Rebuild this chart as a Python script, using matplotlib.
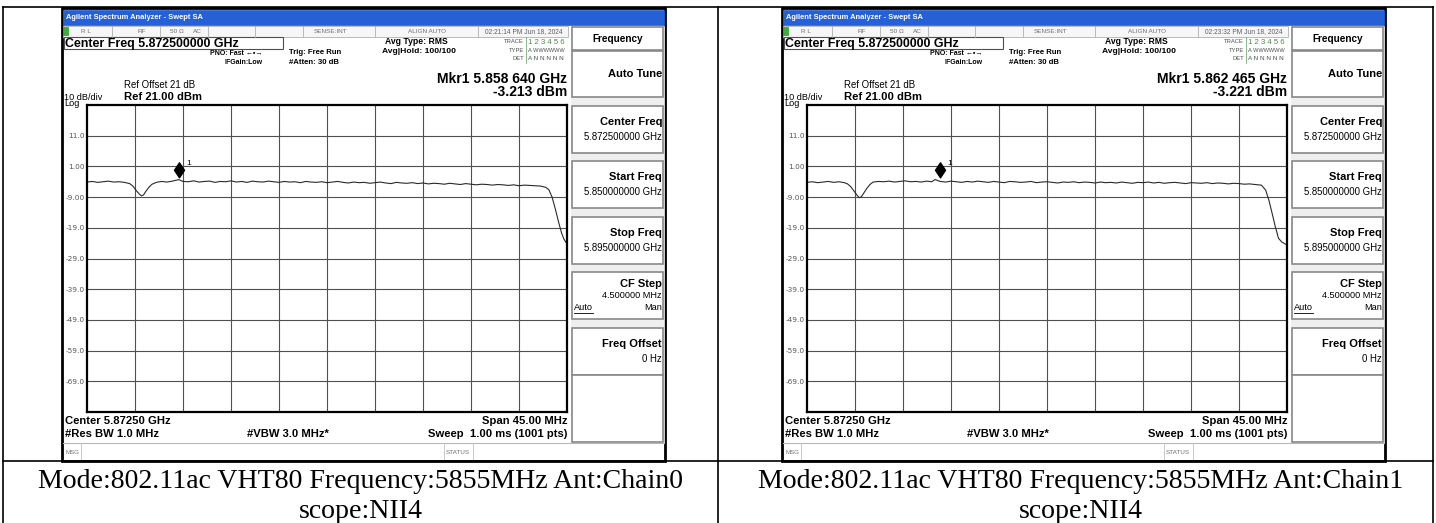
import matplotlib.pyplot as plt
from matplotlib.patches import Rectangle
from matplotlib.path import Path

center_ghz = 5.8725
span_ghz = 0.045
ref_dbm = 21.0
db_per_div = 10.0
y_tick_labels = ['11.0', '1.00', '-9.00', '-19.0', '-29.0', '-39.0', '-49.0', '-59.0', '-69.0']

c0_freq = [5.8500, 5.8505, 5.8510, 5.8515, 5.8520, 5.8525, 5.8530, 5.8535,
           5.8540, 5.8543, 5.8546, 5.8549, 5.8551, 5.8553, 5.8555, 5.8558, 5.8561, 5.8565,
           5.8570, 5.8575, 5.8580, 5.8586, 5.8590, 5.8595, 5.8600, 5.8605, 5.8610, 5.8615,
           5.8620, 5.8625, 5.8630, 5.8635, 5.8640, 5.8645, 5.8650, 5.8655, 5.8660, 5.8665,
           5.8670, 5.8675, 5.8680, 5.8685, 5.8690, 5.8695, 5.8700, 5.8705, 5.8710, 5.8715,
           5.8720, 5.8725, 5.8730, 5.8735, 5.8740, 5.8745, 5.8750, 5.8755, 5.8760, 5.8765,
           5.8770, 5.8775, 5.8780, 5.8785, 5.8790, 5.8795, 5.8800, 5.8805, 5.8810, 5.8815,
           5.8820, 5.8825, 5.8830, 5.8835, 5.8840, 5.8845, 5.8850, 5.8855, 5.8860, 5.8865,
           5.8870, 5.8875, 5.8880, 5.8885, 5.8890, 5.8895, 5.8900, 5.8905, 5.8910, 5.8915,
           5.8920, 5.8925, 5.8930, 5.8933, 5.8936, 5.8939, 5.8942, 5.8945, 5.8947, 5.8950]
c0_level = [-4.1, -3.9, -4.2, -4.0, -3.8, -4.1, -4.0, -4.2,
            -4.6, -5.4, -6.8, -8.0, -8.6, -8.3, -7.2, -5.8, -4.8, -4.2,
            -3.9, -4.1, -3.8, -3.3, -3.9, -4.0, -3.7, -4.1, -3.9, -3.8,
            -4.2, -3.9, -4.0, -3.7, -4.1, -3.9, -4.2, -3.8, -4.0, -4.1,
            -3.8, -4.0, -4.2, -3.9, -4.1, -4.0, -4.3, -3.9, -4.1, -4.2,
            -4.0, -4.3, -4.1, -3.9, -4.2, -4.4, -4.1, -4.3, -4.2, -4.5,
            -4.3, -4.1, -4.4, -4.6, -4.2, -4.4, -4.5, -4.3, -4.6, -4.4,
            -4.7, -4.5, -4.6, -4.8, -4.5, -4.7, -4.9, -4.6, -4.8, -5.0,
            -4.8, -4.9, -5.1, -4.9, -5.0, -5.2, -5.0, -5.3, -5.1, -5.2,
            -5.3, -5.4, -5.8, -6.6, -9.0, -12.8, -17.0, -20.8, -22.6, -24.3]

c1_freq = [5.8500, 5.8505, 5.8510, 5.8515, 5.8520, 5.8525, 5.8530, 5.8535,
           5.8538, 5.8541, 5.8544, 5.8547, 5.8549, 5.8551, 5.8553, 5.8556, 5.8559, 5.8562,
           5.8567, 5.8572, 5.8577, 5.8582, 5.8587, 5.8592, 5.8597, 5.8602, 5.8607, 5.8612,
           5.8617, 5.8620, 5.8625, 5.8630, 5.8635, 5.8640, 5.8645, 5.8650, 5.8655, 5.8660,
           5.8665, 5.8670, 5.8675, 5.8680, 5.8685, 5.8690, 5.8695, 5.8700, 5.8705, 5.8710,
           5.8715, 5.8720, 5.8725, 5.8730, 5.8735, 5.8740, 5.8745, 5.8750, 5.8755, 5.8760,
           5.8765, 5.8770, 5.8775, 5.8780, 5.8785, 5.8790, 5.8795, 5.8800, 5.8805, 5.8810,
           5.8815, 5.8820, 5.8825, 5.8830, 5.8835, 5.8840, 5.8845, 5.8850, 5.8855, 5.8860,
           5.8865, 5.8870, 5.8875, 5.8880, 5.8885, 5.8890, 5.8895, 5.8900, 5.8905, 5.8910,
           5.8915, 5.8920, 5.8926, 5.8930, 5.8933, 5.8936, 5.8939, 5.8942, 5.8945, 5.8950]
c1_level = [-4.2, -4.0, -4.3, -4.1, -3.9, -4.2, -4.0, -4.3,
            -4.7, -5.6, -7.0, -8.4, -9.2, -8.9, -7.8, -6.2, -4.9, -4.1,
            -3.9, -4.0, -3.8, -4.1, -3.9, -3.7, -4.0, -3.9, -4.1, -3.8,
            -4.0, -3.3, -3.9, -4.1, -3.8, -4.0, -4.2, -3.9, -4.1, -3.8,
            -4.0, -4.2, -3.9, -4.1, -4.3, -3.9, -4.0, -4.2, -4.1, -3.9,
            -4.3, -4.1, -4.0, -4.2, -4.4, -4.1, -4.2, -4.0, -4.3, -4.1,
            -4.2, -4.4, -4.1, -4.3, -4.2, -4.4, -4.1, -4.3, -4.5, -4.2,
            -4.3, -4.1, -4.4, -4.2, -4.5, -4.3, -4.2, -4.4, -4.6, -4.3,
            -4.4, -4.5, -4.3, -4.6, -4.4, -4.5, -4.7, -4.5, -4.6, -4.8,
            -4.7, -4.9, -5.1, -6.7, -10.0, -14.2, -18.6, -22.4, -23.6, -24.6]

mkr_freq = [5.858640, 5.862465]
mkr_level = [-3.213, -3.221]
mkr_text = ['Mkr1 5.858 640 GHz', 'Mkr1 5.862 465 GHz']
mkr_val_text = ['-3.213 dBm', '-3.221 dBm']
stamps = ['02:21:14 PM Jun 18, 2024', '02:23:32 PM Jun 18, 2024']
captions = ['Mode:802.11ac VHT80 Frequency:5855MHz Ant:Chain0',
            'Mode:802.11ac VHT80 Frequency:5855MHz Ant:Chain1']
softkeys = [('Center Freq', '5.872500000 GHz'), ('Start Freq', '5.850000000 GHz'),
            ('Stop Freq', '5.895000000 GHz'), ('CF Step', '4.500000 MHz'),
            ('Freq Offset', '0 Hz')]

W, H = 1436, 523
SANS = 'Liberation Sans'
fig = plt.figure(figsize=(W / 100, H / 100), dpi=100)
bg = fig.add_axes([0, 0, 1, 1])
bg.set_xlim(0, W)
bg.set_ylim(H, 0)
bg.axis('off')


def txt(x, y, s, size, ha='left', weight='normal', color='black', family=SANS):
    bg.text(x, y, s, fontsize=size, ha=ha, va='center', fontweight=weight,
            color=color, family=family, zorder=4)


def box(x0, y0, x1, y1, fc='white', ec='#808080', lw=1.0, z=1):
    bg.add_patch(Rectangle((x0, y0), x1 - x0, y1 - y0, facecolor=fc,
                           edgecolor=ec, linewidth=lw, zorder=z))


# diamond marker sitting on top of the trace point
diamond = Path([(0, 0.1), (0.3, 0.55), (0, 1.0), (-0.3, 0.55), (0, 0.1)],
               [Path.MOVETO, Path.LINETO, Path.LINETO, Path.LINETO, Path.CLOSEPOLY])


def draw_screen(i, ox, freqs, levels):
    # frame + title bar
    box(ox + 62, 8, ox + 665, 461, fc='white', ec='black', lw=2.0)
    box(ox + 63, 10, ox + 664, 25, fc='#2660d6', ec='#2660d6', lw=0.5, z=2)
    txt(ox + 66, 17.5, 'Agilent Spectrum Analyzer - Swept SA', 5.4, weight='bold', color='white')

    # status row
    box(ox + 63, 26, ox + 568, 37, fc='#f6f6f6', ec='#b0b0b0', lw=0.6, z=2)
    for xd in [112, 160, 208, 255, 303, 375, 478]:
        bg.plot([ox + xd, ox + xd], [26, 37], color='#b0b0b0', lw=0.6, zorder=3)
    box(ox + 63, 27, ox + 68, 35, fc='#38b038', ec='#208020', lw=0.4, z=3)
    for xs, s in [(81, 'R L'), (137, 'RF'), (170, '50 Ω'), (193, 'AC'), (331, 'SENSE:INT'),
                  (427, 'ALIGN AUTO')]:
        txt(ox + xs, 31.5, s, 4.6, ha='center' if xs > 300 else 'left', color='#707070')
    txt(ox + 524, 31.5, stamps[i], 4.8, ha='center', color='#606060')

    # header
    box(ox + 64, 37, ox + 283, 49, fc='white', ec='#505050', lw=0.8, z=2)
    txt(ox + 65, 43.5, 'Center Freq 5.872500000 GHz', 8.9, weight='bold')
    txt(ox + 262, 53.5, 'PNO: Fast ←•→', 5.0, ha='right', weight='bold')
    txt(ox + 263, 63, 'IFGain:Low', 5.0, ha='right', weight='bold')
    txt(ox + 289, 52, 'Trig: Free Run', 5.6, weight='bold')
    txt(ox + 289, 62, '#Atten: 30 dB', 5.6, weight='bold')
    txt(ox + 385, 42, 'Avg Type: RMS', 6.2, weight='bold')
    txt(ox + 382, 51.5, 'Avg|Hold: 100/100', 6.1, weight='bold')
    txt(ox + 524, 41.5, 'TRACE', 4.2, ha='right', color='#505050')
    txt(ox + 524, 50.5, 'TYPE', 4.2, ha='right', color='#505050')
    txt(ox + 524, 59, 'DET', 4.2, ha='right', color='#505050')
    bg.plot([ox + 526, ox + 526], [37, 63], color='#7ab07a', lw=0.6)
    txt(ox + 528, 42, '1 2 3 4 5 6', 5.6, color='#4c8a4c')
    txt(ox + 528, 50.5, 'A WWWWWW', 4.1, color='#505050')
    txt(ox + 528, 59, 'A N N N N N', 4.6, color='#505050')
    txt(ox + 567, 79, mkr_text[i], 10.0, ha='right', weight='bold')
    txt(ox + 567, 92.5, mkr_val_text[i], 10.0, ha='right', weight='bold')
    txt(ox + 124, 85.5, 'Ref Offset 21 dB', 6.9)
    txt(ox + 124, 96.5, 'Ref 21.00 dBm', 8.1, weight='bold')
    txt(ox + 64, 97.5, '10 dB/div', 6.6)
    txt(ox + 64, 104, 'Log', 6.6)

    # graticule
    ax = fig.add_axes([(ox + 87) / W, (H - 412) / H, 480 / W, 307 / H])
    f0 = center_ghz - span_ghz / 2
    ax.set_xlim(f0, f0 + span_ghz)
    ax.set_ylim(ref_dbm - 10 * db_per_div, ref_dbm)
    ax.set_xticks([f0 + k * span_ghz / 10 for k in range(1, 10)])
    ax.set_xticklabels([])
    ax.set_yticks([ref_dbm - k * db_per_div for k in range(1, 10)])
    ax.set_yticklabels(y_tick_labels)
    ax.tick_params(length=0, labelsize=5.3, labelcolor='#555555', pad=1.5)
    ax.grid(True, color='#505050', lw=0.8)
    for sp in ax.spines.values():
        sp.set_linewidth(1.6)
        sp.set_color('black')
    ax.plot(freqs, levels, color='#2a2a2a', lw=0.8)
    ax.plot(mkr_freq[i], mkr_level[i], marker=diamond, markersize=24, color='black',
            linestyle='none')
    ax.annotate('1', (mkr_freq[i], mkr_level[i]), xytext=(5, 11.5), textcoords='offset points',
                fontsize=6, ha='left', va='center', family=SANS)

    # footer
    txt(ox + 65, 421, 'Center 5.87250 GHz', 8.1, weight='bold')
    txt(ox + 65, 434, '#Res BW 1.0 MHz', 8.1, weight='bold')
    txt(ox + 247, 434, '#VBW 3.0 MHz*', 8.1, weight='bold')
    txt(ox + 567, 421, 'Span 45.00 MHz', 8.1, ha='right', weight='bold')
    txt(ox + 567, 434, 'Sweep  1.00 ms (1001 pts)', 8.1, ha='right', weight='bold')
    bg.plot([ox + 63, ox + 664], [443, 443], color='#b8b8b8', lw=0.8)
    for xd in [81, 444, 473]:
        bg.plot([ox + xd, ox + xd], [443, 460], color='#c8c8c8', lw=0.7)
    txt(ox + 65, 452, 'MSG', 4.4, color='#707070')
    txt(ox + 458, 452, 'STATUS', 4.6, ha='center', color='#707070')

    # softkey panel
    box(ox + 571, 26, ox + 664, 443, fc='#eeeeee', ec='#eeeeee', lw=0.5, z=1)
    box(ox + 572, 27, ox + 663, 50, ec='#888888', lw=1.2, z=2)
    txt(ox + 618, 38.5, 'Frequency', 7.2, ha='center', weight='bold')
    box(ox + 572, 51, ox + 663, 97, ec='#888888', lw=1.2, z=2)
    txt(ox + 662, 74, 'Auto Tune', 8.0, ha='right', weight='bold')
    tops = [106, 161, 217, 272, 328]
    for (title, val), top in zip(softkeys, tops):
        box(ox + 572, top, ox + 663, top + 47, ec='#888888', lw=1.2, z=2)
        if title == 'CF Step':
            txt(ox + 662, top + 12, title, 8.0, ha='right', weight='bold')
            txt(ox + 662, top + 24, val, 6.6, ha='right')
            txt(ox + 574, top + 36, 'Auto', 6.6)
            bg.plot([ox + 574, ox + 593], [top + 41, top + 41], color='black', lw=0.6, zorder=4)
            txt(ox + 662, top + 36, 'Man', 6.6, ha='right')
        else:
            txt(ox + 662, top + 16, title, 8.0, ha='right', weight='bold')
            txt(ox + 662, top + 31, val, 6.9, ha='right')
    box(ox + 572, 375, ox + 663, 442, ec='#888888', lw=1.2, z=2)

    # caption cell
    txt(ox + 361, 481, captions[i], 20.1, ha='center', family='Liberation Serif')
    txt(ox + 361, 512, 'scope:NII4', 20.1, ha='center', family='Liberation Serif')


draw_screen(0, 0, c0_freq, c0_level)
draw_screen(1, 720, c1_freq, c1_level)

# table rules
for xv in [3, 718, 1433]:
    bg.plot([xv, xv], [7, H], color='black', lw=1.2, zorder=5)
for yv in [7, 461]:
    bg.plot([3, 1433], [yv, yv], color='black', lw=1.2, zorder=5)

fig.savefig('out.png', dpi=100)
